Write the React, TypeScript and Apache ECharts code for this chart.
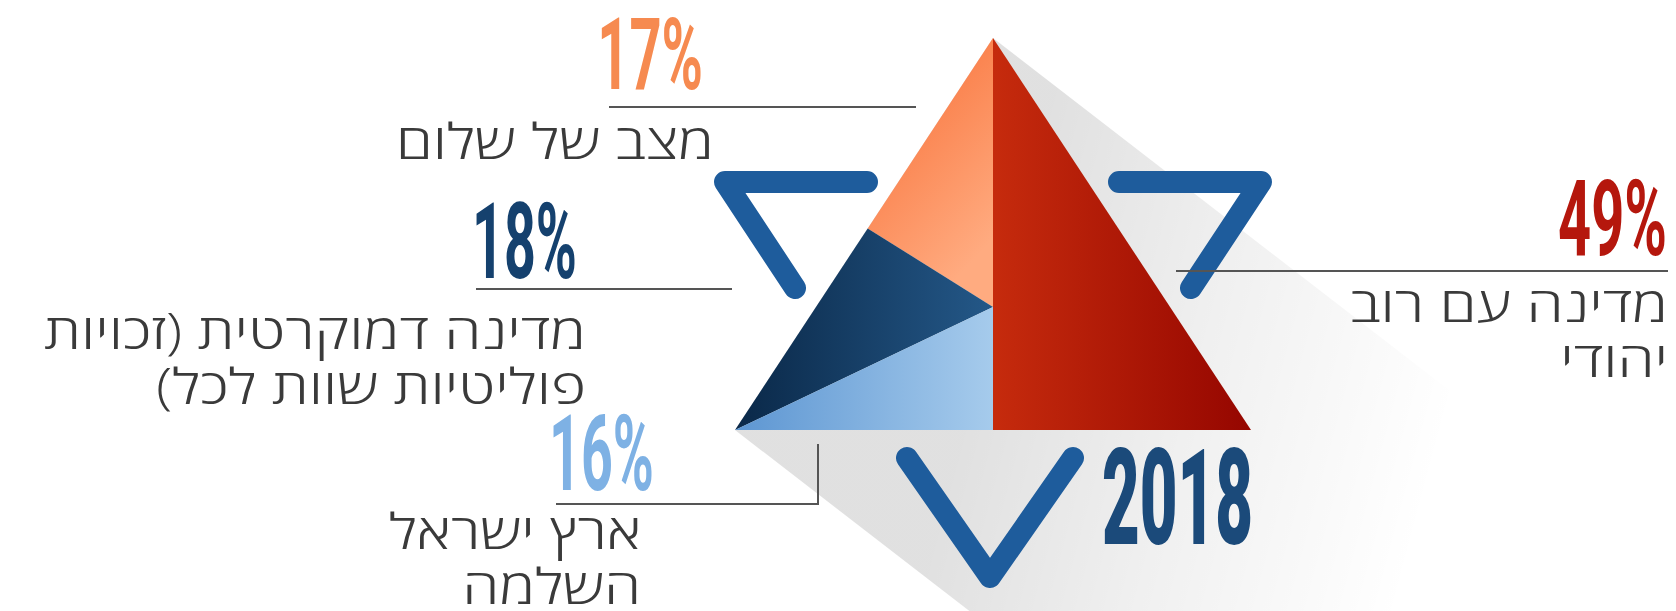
import React, { useEffect, useRef } from 'react';
import * as echarts from 'echarts';

// ---- data ----
const categories = [
  'מדינה עם רוב\nיהודי',
  'מצב של שלום',
  'מדינה דמוקרטית (זכויות\nפוליטיות שוות לכל)',
  'ארץ ישראל\nהשלמה',
];
const values = [49, 17, 18, 16];
const yearLabel = '2018';
const labelColors = ['#b5170d', '#f68a50', '#15416e', '#7eb1e4'];

// ---- layout (pixels) ----
const TRI = { left: 735, top: 38, width: 516, height: 392 };
const labelLayout = [
  { pctRight: 1667, pctY: 219, pctSize: 105, pctScale: 0.55, textRight: 1668, textY: 303, line: [[1176, 271], [1668, 271]] },
  { pctRight: 703, pctY: 55, pctSize: 100, pctScale: 0.56, textRight: 714, textY: 140, line: [[609, 107], [916, 107]] },
  { pctRight: 577, pctY: 242, pctSize: 105, pctScale: 0.53, textRight: 586, textY: 330, line: [[476, 289], [732, 289]] },
  { pctRight: 654, pctY: 454, pctSize: 105, pctScale: 0.53, textRight: 641, textY: 530, line: [[556, 504], [818, 504], [818, 444]] },
];
const STAR_BLUE = '#1e5c9c';

export default function App() {
  const ref = useRef<HTMLDivElement>(null);
  useEffect(() => {
    const chart = echarts.init(ref.current!, null, { renderer: 'svg' });

    const [, orangeV, darkV, lightV] = values;
    const leftSum = orangeV + darkV + lightV;
    const c = lightV / leftSum;
    const px = orangeV / leftSum / (1 - c);
    const shapes: number[][][] = [
      [[0, 1], [0, 0], [1, 0]],
      [[0, 1], [-px, 1 - px], [0, c]],
      [[-px, 1 - px], [-1, 0], [0, c]],
      [[0, c], [-1, 0], [0, 0]],
    ];
    const G = echarts.graphic.LinearGradient;
    const fills = [
      new G(0, 0, 1, 0, [{ offset: 0, color: '#c62b0d' }, { offset: 1, color: '#950600' }]),
      new G(0, 0, 0.5, 1, [{ offset: 0, color: '#f86a30' }, { offset: 1, color: '#ffab80' }]),
      new G(0, 0, 1, 0, [{ offset: 0, color: '#0a2848' }, { offset: 1, color: '#245888' }]),
      new G(0, 0, 1, 0, [{ offset: 0, color: '#5d96d2' }, { offset: 1, color: '#a6cbec' }]),
    ];

    const textFont = "'Open Sans', 'DejaVu Sans', sans-serif";
    const numFont = "Roboto, 'DejaVu Sans', sans-serif";

    const graphics: any[] = [];
    // long shadow
    const apex = [TRI.left + TRI.width / 2, TRI.top];
    const bl = [TRI.left, TRI.top + TRI.height];
    const br = [TRI.left + TRI.width, TRI.top + TRI.height];
    const d = [0.79 * 900, 0.61 * 900];
    graphics.push({
      type: 'polygon',
      z: -10,
      shape: {
        points: [bl, apex, [apex[0] + d[0], apex[1] + d[1]], [br[0] + d[0], br[1] + d[1]], [bl[0] + d[0], bl[1] + d[1]]],
      },
      style: {
        fill: new G(1000, 300, 1450, 420, [
          { offset: 0, color: 'rgba(0,0,0,0.12)' },
          { offset: 0.45, color: 'rgba(0,0,0,0.06)' },
          { offset: 1, color: 'rgba(0,0,0,0)' },
        ], true),
      },
    });
    // star chevrons
    const chevrons = [
      [[867, 182], [725, 182], [795, 288]],
      [[1119, 182], [1261, 182], [1191, 288]],
      [[907, 458], [990, 577], [1073, 458]],
    ];
    chevrons.forEach((pts) =>
      graphics.push({
        type: 'polyline',
        z: 1,
        shape: { points: pts },
        style: { stroke: STAR_BLUE, lineWidth: 22, lineCap: 'round', lineJoin: 'round', fill: null },
      })
    );
    // labels
    values.forEach((v, i) => {
      const L = labelLayout[i];
      graphics.push({
        type: 'polyline',
        z: 5,
        shape: { points: L.line },
        style: { stroke: '#555', lineWidth: 2, fill: null },
      });
      graphics.push({
        type: 'text',
        z: 5,
        x: L.pctRight,
        y: L.pctY,
        scaleX: L.pctScale,
        style: {
          text: v + '%',
          x: 0,
          y: 0,
          align: 'right',
          verticalAlign: 'middle',
          fill: labelColors[i],
          font: `bold ${L.pctSize}px ${numFont}`,
        },
      });
      const lines = categories[i].split('\n');
      lines.forEach((ln, k) => {
        graphics.push({
          type: 'text',
          z: 5,
          x: L.textRight,
          y: L.textY + k * 55,
          scaleX: 1.22,
          style: {
            text: ln + '\u200F',
            x: 0,
            y: 0,
            align: 'right',
            verticalAlign: 'middle',
            fill: '#3a3a3a',
            font: `300 49px ${textFont}`,
          },
        });
      });
    });
    graphics.push({
      type: 'text',
      z: 5,
      x: 1102,
      y: 499,
      scaleX: 0.49,
      style: {
        text: yearLabel,
        x: 0,
        y: 0,
        align: 'left',
        verticalAlign: 'middle',
        fill: '#1b4a7a',
        font: `900 133px ${numFont}`,
      },
    });

    chart.setOption({
      animation: false,
      backgroundColor: '#ffffff',
      grid: { left: TRI.left, top: TRI.top, width: TRI.width, height: TRI.height },
      xAxis: { type: 'value', min: -1, max: 1, show: false },
      yAxis: { type: 'value', min: 0, max: 1, show: false },
      graphic: graphics,
      series: [
        {
          type: 'custom',
          z: 10,
          data: values.map((v, i) => ({ value: [0, 0.5, v], name: categories[i] })),
          renderItem: (params: any, api: any) => {
            const i = params.dataIndex;
            const pts = shapes[i].map((p) => api.coord(p));
            return { type: 'polygon', shape: { points: pts }, style: { fill: fills[i] } };
          },
        },
      ],
    });
    return () => chart.dispose();
  }, []);
  return (
    <div
      ref={ref}
      style={{ position: 'fixed', left: 0, top: 0, width: 1676, height: 611, background: '#fff' }}
    />
  );
}
